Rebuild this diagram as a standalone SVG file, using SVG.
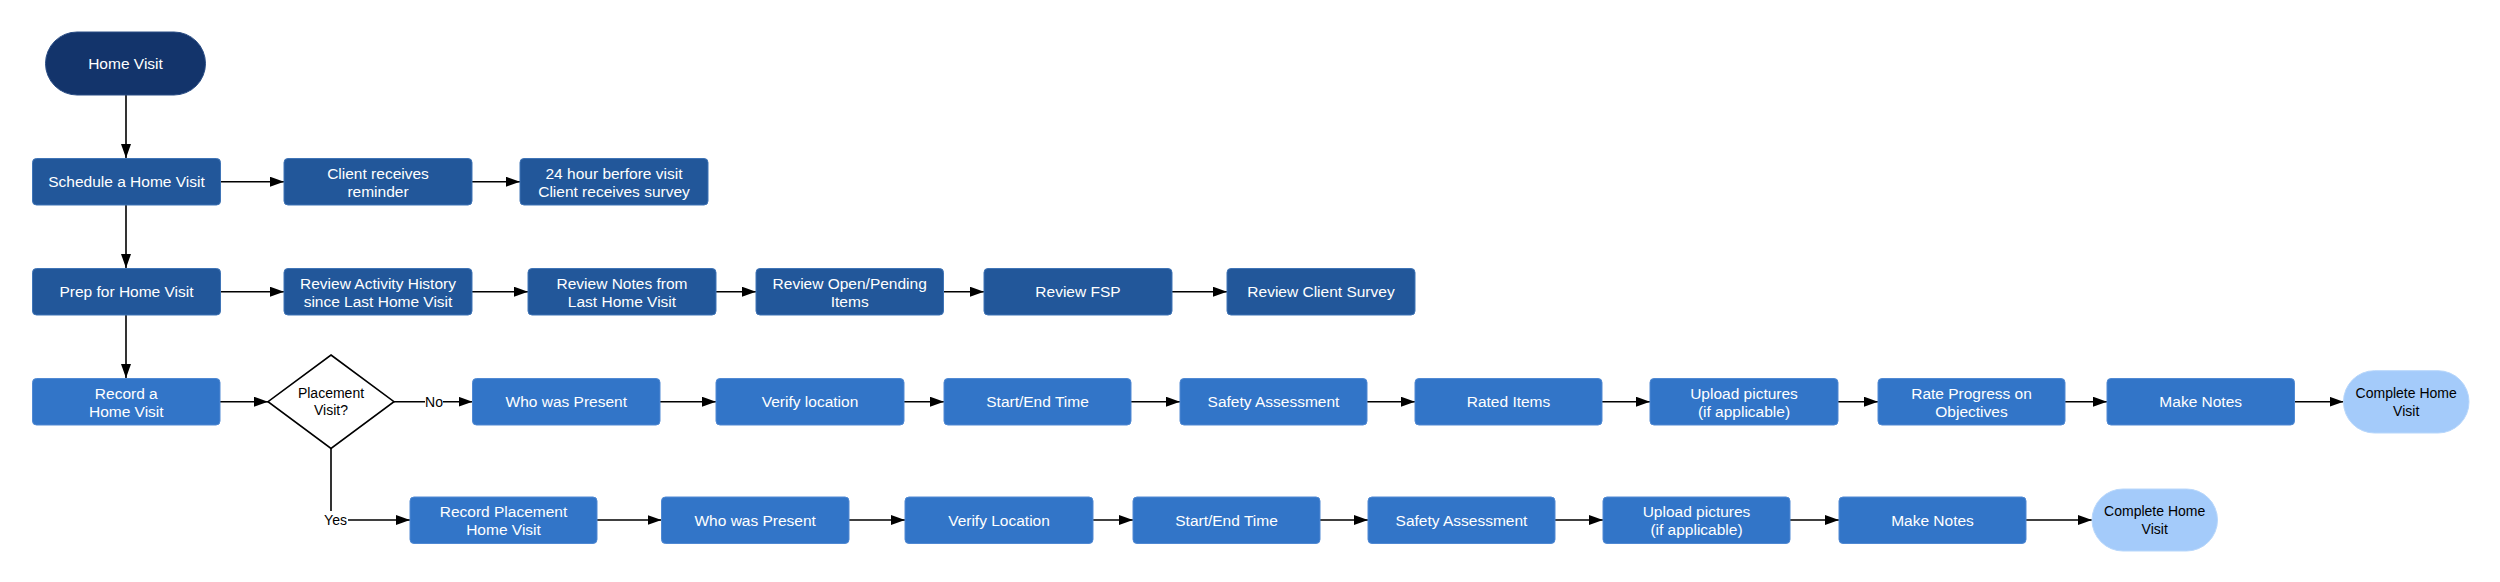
<svg xmlns="http://www.w3.org/2000/svg" width="2500" height="582" viewBox="0 0 2500 582">
<style>
.dk{fill:#22579a;stroke:#3f74b6;stroke-width:1}
.md{fill:#3275c8;stroke:#5089d3;stroke-width:1}
.start{fill:#13346b;stroke:#2a4d85;stroke-width:1}
.end{fill:#a4cbfa;stroke:#b8d7fb;stroke-width:1}
.dia{fill:#ffffff;stroke:#000000;stroke-width:1.6}
.t{font-family:"Liberation Sans",Arial,sans-serif;font-size:15.5px;fill:#ffffff;text-anchor:middle;dominant-baseline:central}
.b{font-family:"Liberation Sans",Arial,sans-serif;font-size:14px;fill:#000000;text-anchor:middle;dominant-baseline:central}
.c line,.c path{stroke:#000000;stroke-width:1.6;fill:none;marker-end:url(#ah)}
.lbl{fill:#ffffff}
</style>
<defs>
<marker id="ah" markerUnits="userSpaceOnUse" markerWidth="14" markerHeight="10" viewBox="0 0 14 10" refX="14" refY="5" orient="auto">
<path d="M0,0 L14,5 L0,10 z" fill="#000000"/>
</marker>
</defs>
<rect width="2500" height="582" fill="#ffffff"/>

<g id="connectors" class="c">
<line x1="126" y1="95" x2="126" y2="158"/>
<line x1="126" y1="205" x2="126" y2="268"/>
<line x1="126" y1="315" x2="126" y2="378"/>
<line x1="220" y1="181.7" x2="284" y2="181.7"/>
<line x1="472" y1="181.7" x2="520" y2="181.7"/>
<line x1="220" y1="291.7" x2="284" y2="291.7"/>
<line x1="472" y1="291.7" x2="528" y2="291.7"/>
<line x1="716" y1="291.7" x2="756" y2="291.7"/>
<line x1="943.5" y1="291.7" x2="984" y2="291.7"/>
<line x1="1172" y1="291.7" x2="1227" y2="291.7"/>
<line x1="220" y1="401.7" x2="268" y2="401.7"/>
<line x1="394" y1="401.7" x2="472.5" y2="401.7"/>
<line x1="660" y1="401.7" x2="716" y2="401.7"/>
<line x1="904" y1="401.7" x2="944" y2="401.7"/>
<line x1="1131" y1="401.7" x2="1180" y2="401.7"/>
<line x1="1367" y1="401.7" x2="1415" y2="401.7"/>
<line x1="1602" y1="401.7" x2="1650" y2="401.7"/>
<line x1="1838" y1="401.7" x2="1878" y2="401.7"/>
<line x1="2065" y1="401.7" x2="2107" y2="401.7"/>
<line x1="2294" y1="401.7" x2="2343.5" y2="401.7"/>
<path d="M331,448.5 V520 H410"/>
<line x1="597" y1="520" x2="661.5" y2="520"/>
<line x1="849" y1="520" x2="905" y2="520"/>
<line x1="1093" y1="520" x2="1133" y2="520"/>
<line x1="1320" y1="520" x2="1368" y2="520"/>
<line x1="1555" y1="520" x2="1603" y2="520"/>
<line x1="1790" y1="520" x2="1839" y2="520"/>
<line x1="2026" y1="520" x2="2092" y2="520"/>
<g id="label-no"><rect class="lbl" x="425" y="393" width="18" height="17"/><text class="b" x="434" y="401.7">No</text></g>
<g id="label-yes"><rect class="lbl" x="323" y="511" width="25" height="17"/><text class="b" x="335.5" y="520">Yes</text></g>
</g>

<g id="n-home-visit"><rect class="start" x="45.5" y="32" width="160" height="63" rx="31.5"/><text class="t" x="125.5" y="63.5">Home Visit</text></g>

<g id="n-schedule"><rect class="dk" x="32.5" y="158.5" width="188" height="46.5" rx="4"/><text class="t" x="126.5" y="181.7">Schedule a Home Visit</text></g>
<g id="n-reminder"><rect class="dk" x="284" y="158.5" width="188" height="46.5" rx="4"/><text class="t" x="378" y="173">Client receives</text><text class="t" x="378" y="191.5">reminder</text></g>
<g id="n-survey"><rect class="dk" x="520" y="158.5" width="188" height="46.5" rx="4"/><text class="t" x="614" y="173">24 hour berfore visit</text><text class="t" x="614" y="191.5">Client receives survey</text></g>

<g id="n-prep"><rect class="dk" x="32.5" y="268.5" width="188" height="46.5" rx="4"/><text class="t" x="126.5" y="291.7">Prep for Home Visit</text></g>
<g id="n-activity"><rect class="dk" x="284" y="268.5" width="188" height="46.5" rx="4"/><text class="t" x="378" y="283">Review Activity History</text><text class="t" x="378" y="301.5">since Last Home Visit</text></g>
<g id="n-notes"><rect class="dk" x="528" y="268.5" width="188" height="46.5" rx="4"/><text class="t" x="622" y="283">Review Notes from</text><text class="t" x="622" y="301.5">Last Home Visit</text></g>
<g id="n-open"><rect class="dk" x="756" y="268.5" width="187.5" height="46.5" rx="4"/><text class="t" x="849.7" y="283">Review Open/Pending</text><text class="t" x="849.7" y="301.5">Items</text></g>
<g id="n-fsp"><rect class="dk" x="984" y="268.5" width="188" height="46.5" rx="4"/><text class="t" x="1078" y="291.7">Review FSP</text></g>
<g id="n-client-survey"><rect class="dk" x="1227" y="268.5" width="188" height="46.5" rx="4"/><text class="t" x="1321" y="291.7">Review Client Survey</text></g>

<g id="n-record"><rect class="md" x="32.5" y="378.5" width="187.5" height="46.5" rx="4"/><text class="t" x="126.3" y="393">Record a</text><text class="t" x="126.3" y="411.5">Home Visit</text></g>
<g id="n-decision"><polygon class="dia" points="331,355 394,401.7 331,448.5 268,401.7"/><text class="b" x="331" y="392.5">Placement</text><text class="b" x="331" y="410">Visit?</text></g>
<g id="n-who-1"><rect class="md" x="472.5" y="378.5" width="187.5" height="46.5" rx="4"/><text class="t" x="566.3" y="401.7">Who was Present</text></g>
<g id="n-verify-1"><rect class="md" x="716" y="378.5" width="188" height="46.5" rx="4"/><text class="t" x="810" y="401.7">Verify location</text></g>
<g id="n-time-1"><rect class="md" x="944" y="378.5" width="187" height="46.5" rx="4"/><text class="t" x="1037.5" y="401.7">Start/End Time</text></g>
<g id="n-safety-1"><rect class="md" x="1180" y="378.5" width="187" height="46.5" rx="4"/><text class="t" x="1273.5" y="401.7">Safety Assessment</text></g>
<g id="n-rated"><rect class="md" x="1415" y="378.5" width="187" height="46.5" rx="4"/><text class="t" x="1508.5" y="401.7">Rated Items</text></g>
<g id="n-upload-1"><rect class="md" x="1650" y="378.5" width="188" height="46.5" rx="4"/><text class="t" x="1744" y="393">Upload pictures</text><text class="t" x="1744" y="411.5">(if applicable)</text></g>
<g id="n-progress"><rect class="md" x="1878" y="378.5" width="187" height="46.5" rx="4"/><text class="t" x="1971.5" y="393">Rate Progress on</text><text class="t" x="1971.5" y="411.5">Objectives</text></g>
<g id="n-make-notes-1"><rect class="md" x="2107" y="378.5" width="187.5" height="46.5" rx="4"/><text class="t" x="2200.7" y="401.7">Make Notes</text></g>
<g id="n-complete-1"><rect class="end" x="2343.5" y="370.7" width="125.5" height="62.3" rx="31"/><text class="b" x="2406.2" y="393">Complete Home</text><text class="b" x="2406.2" y="410.5">Visit</text></g>

<g id="n-record-placement"><rect class="md" x="410" y="497" width="187" height="46.5" rx="4"/><text class="t" x="503.5" y="511">Record Placement</text><text class="t" x="503.5" y="529.5">Home Visit</text></g>
<g id="n-who-2"><rect class="md" x="661.5" y="497" width="187.5" height="46.5" rx="4"/><text class="t" x="755.2" y="520">Who was Present</text></g>
<g id="n-verify-2"><rect class="md" x="905" y="497" width="188" height="46.5" rx="4"/><text class="t" x="999" y="520">Verify Location</text></g>
<g id="n-time-2"><rect class="md" x="1133" y="497" width="187" height="46.5" rx="4"/><text class="t" x="1226.5" y="520">Start/End Time</text></g>
<g id="n-safety-2"><rect class="md" x="1368" y="497" width="187" height="46.5" rx="4"/><text class="t" x="1461.5" y="520">Safety Assessment</text></g>
<g id="n-upload-2"><rect class="md" x="1603" y="497" width="187" height="46.5" rx="4"/><text class="t" x="1696.5" y="511">Upload pictures</text><text class="t" x="1696.5" y="529.5">(if applicable)</text></g>
<g id="n-make-notes-2"><rect class="md" x="1839" y="497" width="187" height="46.5" rx="4"/><text class="t" x="1932.5" y="520">Make Notes</text></g>
<g id="n-complete-2"><rect class="end" x="2092" y="489" width="125.5" height="62" rx="31"/><text class="b" x="2154.7" y="511">Complete Home</text><text class="b" x="2154.7" y="528.5">Visit</text></g>
</svg>
